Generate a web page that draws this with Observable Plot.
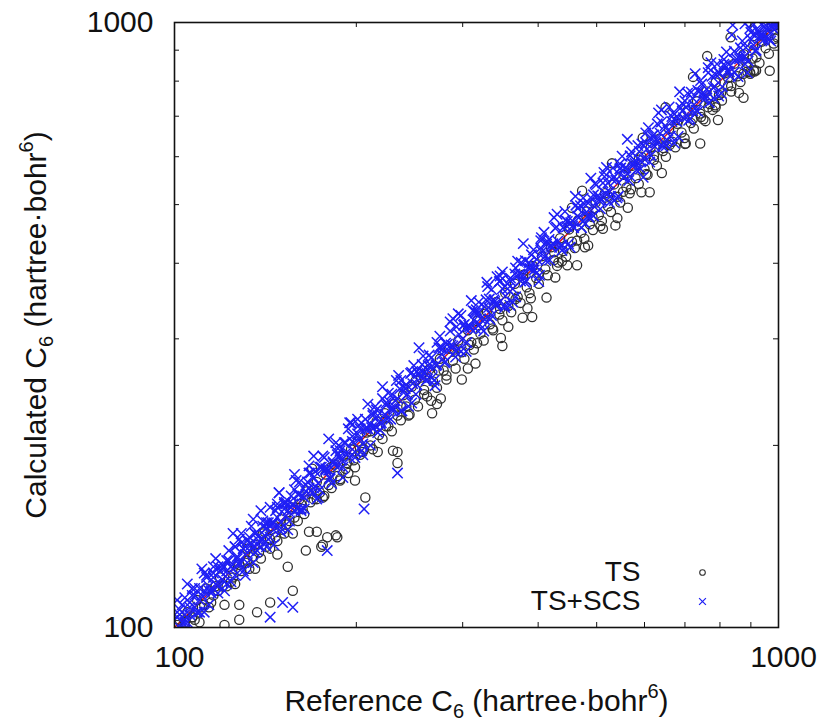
<!DOCTYPE html>
<html>
<head>
<meta charset="utf-8">
<script src="https://cdn.jsdelivr.net/npm/d3@7"></script>
<script src="https://cdn.jsdelivr.net/npm/@observablehq/plot@0.6"></script>
<style>
  html, body { margin: 0; padding: 0; background: #fff; }
</style>
</head>
<body>
<div id="chart"></div>
<script>
// ---------- data ----------
const seriesNames = ["TS", "TS+SCS"];
const majorTicks = [100, 1000];
const minorTicks = [200, 300, 400, 500, 600, 700, 800, 900];
const diagonal = [100, 1000];
const xTitle = "Reference C₆ (hartree·bohr⁶)";
const yTitle = "Calculated C₆ (hartree·bohr⁶)";

// TS: [reference C6, calculated C6]
const tsPoints = [
[101,101],[102,103],[104,102],[105,106],[107,104],[108,103],[109,111],[111,108],[112,109],[113,116],[115,110],[116,113],[118,115],[119,121],[121,101],[120,117],[122,117],[123,126],[125,121],[126,118],[128,103],[128,127],[129,124],[131,128],[132,135],[133,125],[135,131],[136,137],[137,106],[138,133],[139,130],[141,144],[142,136],[144,140],[144,110],[145,147],[147,141],[148,139],[150,151],[151,145],[152,143],[154,126],[155,150],[156,158],[157,115],[158,152],[160,150],[161,163],[163,157],[164,154],[165,134],[166,168],[168,161],[169,183],[170,163],[172,144],[172,174],[174,167],[175,136],[176,164],[176,137],[178,179],[179,141],[180,172],[182,170],[184,186],[185,142],[186,141],[186,178],[188,176],[190,192],[192,183],[194,180],[196,197],[198,189],[199,184],
[201,203],[203,193],[206,197],[207,164],[208,210],[211,200],[213,197],[216,219],[218,208],[221,205],[223,226],[226,215],[229,211],[231,234],[234,187],[234,224],[234,195],[237,220],[239,242],[242,232],[245,225],[247,250],[250,238],[253,232],[256,259],[259,247],[262,241],[264,267],[267,226],[268,255],[272,234],[272,249],[275,278],[276,239],[279,266],[282,261],[285,289],[289,276],[292,268],[295,298],[299,285],[302,278],[306,268],[306,310],[310,296],[313,288],[315,273],[317,321],[321,306],[325,298],[329,333],[333,317],[337,310],[341,345],[345,329],[347,301],[349,292],[349,322],[353,357],[357,340],[361,332],[366,370],[370,352],[374,344],[377,325],[378,383],[383,365],[384,337],[387,357],[391,326],[392,396],[397,378],[401,370],[406,411],[411,391],[415,382],[420,425],[425,405],[427,379],[430,396],[432,401],[435,440],[440,419],[445,410],[447,397],[450,455],[455,494],[455,434],[460,424],[464,397],[466,471],[471,449],[473,527],[477,439],[482,487],[484,428],[487,464],[493,454],[498,504],
[504,480],[510,470],[512,456],[516,522],[522,497],[528,486],[530,585],[534,540],[541,475],[541,515],[547,504],[554,560],[560,534],[563,494],[567,522],[573,580],[580,553],[587,541],[593,524],[593,600],[596,645],[600,572],[607,560],[612,524],[614,621],[622,593],[629,580],[636,643],[644,613],[645,620],[651,600],[650,724],[659,667],[667,635],[675,622],[683,690],[691,658],[699,644],[702,631],[707,715],[716,682],[722,813],[724,668],[733,741],[742,707],[744,698],[751,692],[757,687],[760,769],[762,880],[765,724],[769,733],[778,717],[786,730],[787,796],[794,690],[797,759],[803,764],[806,743],[815,824],[825,810],[825,786],[833,945],[835,769],[845,855],[855,815],[865,797],[875,751],[875,823],[876,886],[886,844],[888,829],[898,823],[897,828],[906,872],[908,918],[910,834],[918,833],[919,876],[930,857],[941,952],[952,907],[964,888],[975,986],[982,923],[987,940],[990,990],
[104,101],[107,104],[110,102],[114,108],[117,117],[121,109],[124,119],[128,109],[132,129],[136,125],[140,143],[144,135],[148,132],[153,148],[157,143],[162,160],[167,144],[172,163],[177,165],[182,184],[188,175],[193,187],[199,175],
[205,195],[211,211],[217,195],[224,215],[230,196],[237,232],[244,224],[251,256],[259,243],[266,237],[274,266],[282,257],[291,288],[299,257],[308,293],[317,295],[327,330],[336,312],[346,336],[357,314],[367,349],[378,378],[389,350],[401,385],[413,351],[425,417],[438,403],[451,460],[464,436],[478,425],[492,477],
[507,461],[522,517],[537,462],[553,525],[570,530],[587,593],[604,562],[622,603],[641,564],[660,627],[680,680],[700,630],[721,692],[742,631],[764,749],[787,724],[811,827],[835,785],[860,765],[885,858],[912,830],[939,930],[967,832],[995,945]
];

// TS+SCS: [reference C6, calculated C6]
const tsScsPoints = [
[101,104],[102,100],[103,109],[104,105],[105,102],[106,110],[107,116],[108,108],[109,106],[110,116],[111,113],[112,106],[113,121],[114,117],[115,114],[116,126],[117,118],[118,114],[119,124],[120,127],[121,119],[122,124],[123,129],[124,119],[125,125],[126,136],[127,131],[128,127],[129,143],[130,135],[131,132],[132,128],[133,141],[134,137],[135,128],[136,143],[137,137],[138,142],[139,136],[140,150],[141,142],[142,136],[143,149],[144,104],[145,148],[146,145],[147,156],[148,152],[149,167],[150,146],[151,110],[152,160],[153,153],[154,145],[155,161],[157,108],[157,160],[158,169],[160,157],[161,166],[163,165],[164,157],[166,174],[167,170],[169,167],[170,192],[171,181],[173,173],[174,169],[176,183],[177,191],[179,134],[180,182],[182,173],[183,188],[185,196],[187,185],[188,192],[190,184],[192,202],[194,194],[196,218],[197,203],[199,191],
[201,209],[203,205],[205,201],[206,157],[207,221],[209,213],[211,200],[213,224],[215,215],[217,224],[219,212],[221,239],[223,225],[225,221],[227,236],[229,243],[231,229],[234,180],[234,239],[236,248],[238,228],[241,248],[243,243],[246,263],[248,253],[251,243],[253,263],[256,259],[258,281],[261,256],[263,271],[266,279],[269,256],[271,271],[274,290],[277,283],[280,274],[283,294],[286,309],[289,292],[292,280],[295,330],[296,305],[299,299],[302,317],[305,296],[308,314],[312,334],[315,331],[315,312],[318,331],[321,324],[325,309],[328,348],[330,366],[331,338],[335,328],[338,348],[342,380],[342,342],[345,373],[349,363],[352,341],[356,363],[360,378],[363,363],[367,352],[371,382],[375,401],[378,382],[382,374],[386,401],[390,413],[394,390],[398,406],[402,382],[404,436],[406,418],[410,410],[414,435],[418,405],[423,431],[427,457],[431,435],[436,427],[440,458],[444,471],[449,431],[453,467],[458,458],[462,499],[467,476],[472,458],[477,501],[481,486],[486,476],[491,511],[497,542],[496,496],
[502,517],[507,492],[512,543],[517,522],[522,543],[527,516],[532,575],[538,549],[543,516],[548,575],[554,554],[559,576],[565,548],[571,611],[576,582],[582,570],[588,612],[594,630],[600,594],[606,618],[612,588],[618,649],[624,624],[630,680],[637,656],[643,624],[649,675],[656,663],[662,649],[669,709],[675,689],[682,648],[689,723],[696,696],[703,724],[710,689],[717,767],[724,731],[731,716],[738,768],[746,791],[753,745],[761,776],[768,737],[776,815],[784,784],[791,854],[799,823],[807,783],[815,848],[823,831],[832,815],[840,990],[848,865],[857,814],[865,908],[874,874],[883,909],[891,864],[900,963],[909,918],[918,900],[927,964],[937,993],[946,937],[955,974],[965,936],[974,984],[984,974],[994,994],
[102,107],[104,102],[106,108],[108,116],[110,106],[112,115],[114,115],[116,123],[118,117],[120,125],[122,118],[124,126],[126,136],[128,128],[130,124],[132,139],[134,138],[136,133],[138,139],[140,140],[142,149],[144,141],[146,149],[148,158],[150,144],[152,157],[154,156],[156,165],[158,156],[160,166],[162,157],[165,168],[167,180],[170,170],[172,163],[175,184],[178,183],[181,177],[184,186],[186,193],[189,189],[191,202],[195,191],[198,202],
[202,216],[204,196],[208,214],[212,214],[216,229],[220,218],[224,233],[228,221],[232,237],[237,256],[242,242],[247,235],[252,265],[257,265],[262,257],[267,270],[272,272],[276,290],[281,275],[287,293],[293,314],[298,286],[303,312],[309,312],[314,333],[320,317],[326,339],[333,323],[339,346],[346,374],[353,353],[359,341],[366,384],[373,384],[380,372],[388,392],[396,396],[404,424],[412,404],[420,428],[429,459],[438,420],[447,460],[456,461],[465,493],[474,469],[484,503],[494,479],
[505,515],[515,556],[525,525],[535,508],[546,573],[557,574],[568,557],[579,585],[591,591],[603,633],[615,603],[627,640],[640,685],[652,626],[666,686],[679,686],[693,735],[707,700],[721,750],[735,713],[750,765],[765,826],[780,780],[796,756],[812,853],[828,853],[845,828],[862,871],[880,995],[879,879],[897,942],[915,897],[933,952],[952,990],[971,932],[990,990],
[101,111],[103,102],[105,118],[107,113],[109,106],[111,125],[113,122],[115,115],[117,130],[119,124],[121,115],[123,134],[125,143],[127,130],[129,138],[131,122],[134,147],[136,143],[139,156],[141,138],[144,158],[146,137],[149,167],[152,161],[155,150],[158,179],[161,174],[164,164],[167,185],[170,177],[173,164],[176,192],[180,205],[183,187],[187,200],[190,177],[194,213],[197,207],
[201,221],[205,193],[209,234],[213,226],[217,210],[221,250],[226,244],[230,230],[235,261],[240,250],[244,232],[249,271],[254,290],[259,264],[264,282],[270,251],[275,303],[281,295],[286,320],[292,286],[298,328],[304,286],[310,347],[316,335],[322,312],[329,372],[335,362],[342,342],[349,387],[356,370],[363,345],[370,403],[378,431],[385,393],[393,421],[401,373],[409,450],[417,438],[425,476],[434,425],[443,487],[452,425],[461,516],[470,498],[479,465],[489,553],
[499,539],[509,509],[519,576],[530,551],[540,513],[551,601],[562,641],[573,584],[585,626],[597,555],[609,670],[621,652],[633,709],[646,633],[659,725],[672,632],[686,768],[700,742],[714,693],[728,823],[743,802],[758,758],[773,858],[788,820],[804,764],[820,894],[837,954],[853,870],[871,932],[888,826],[906,997],[924,970],[943,952],[962,943],[981,991],
[102,105],[104,112],[106,105],[108,113],[110,111],[112,123],[114,109],[116,121],[118,126],[120,120],[122,129],[124,126],[126,122],[128,140],[130,135],[133,134],[135,151],[137,134],[140,147],[142,146],[145,149],[148,160],[150,149],[153,161],[156,158],[159,175],[162,156],[165,172],[168,180],[171,171],[174,184],[178,182],[181,176],[185,202],[188,196],[192,194],[195,218],[199,195],
[203,213],[207,213],[211,217],[215,232],[219,217],[224,235],[228,230],[233,256],[237,228],[242,252],[247,264],[252,252],[257,272],[262,267],[267,259],[272,296],[278,289],[284,287],[289,324],[295,289],[301,316],[307,316],[313,322],[319,345],[326,323],[332,349],[339,342],[346,381],[352,338],[360,374],[367,393],[374,374],[381,404],[389,397],[397,385],[405,441],[413,430],[421,425],[430,482],[438,429],[447,469],[456,470],[465,479],[475,513],[484,479],[494,519],
[504,509],[514,565],[525,504],[535,556],[546,584],[556,556],[568,602],[579,591],[591,573],[603,657],[615,640],[627,633],[640,717],[653,640],[666,699],[679,699],[693,714],[707,764],[721,714],[735,772],[750,758],[765,842],[781,750],[796,828],[812,869],[829,829],[845,896],[862,879],[880,854],[897,978],[915,952],[934,943],[952,981],[971,990],[991,981]
];

// ---------- chart ----------
const W = 820, H = 721;
const mL = 174, mR = 42, mT = 22, mB = 94;
const fw = W - mL - mR, fh = H - mT - mB;
const font = "'Liberation Sans', Arial, Helvetica, sans-serif";
const FS = 30;
const LFS = 28;

const chart = Plot.plot({
  width: W, height: H,
  marginLeft: mL, marginRight: mR, marginTop: mT, marginBottom: mB,
  x: {type: "log", domain: [100, 1000], axis: null},
  y: {type: "log", domain: [100, 1000], axis: null},
  style: {fontFamily: font, background: "#fff", color: "#111", overflow: "visible"},
  marks: [
    Plot.line(diagonal, {x: d => d, y: d => d, stroke: "#e01010", strokeWidth: 1.5}),
    Plot.dot(tsPoints, {x: d => d[0], y: d => d[1], symbol: "circle", r: 4.6, stroke: "#303030", strokeWidth: 1.3, fill: "none", clip: true}),
    Plot.dot(tsScsPoints, {x: d => d[0], y: d => d[1], symbol: "times", r: 4.8, stroke: "#1f1ff5", strokeWidth: 1.5, clip: true}),
    // inward minor ticks
    Plot.tickX(minorTicks, {x: d => d, insetTop: fh - 5, stroke: "#111"}),
    Plot.tickX(minorTicks, {x: d => d, insetBottom: fh - 5, stroke: "#111"}),
    Plot.tickY(minorTicks, {y: d => d, insetRight: fw - 5, stroke: "#111"}),
    Plot.tickY(minorTicks, {y: d => d, insetLeft: fw - 5, stroke: "#111"}),
    Plot.frame({stroke: "#111", strokeWidth: 1.6}),
    // tick labels
    Plot.text(majorTicks, {x: d => d, frameAnchor: "bottom", dy: 30, dx: 5, text: d => String(d), fontSize: FS, textAnchor: "middle", lineAnchor: "middle", fill: "#111"}),
    Plot.text(majorTicks, {y: d => d, frameAnchor: "left", dx: -21, text: d => String(d), fontSize: FS, textAnchor: "end", lineAnchor: "middle", fill: "#111"}),
    // axis titles
    Plot.text([xTitle], {frameAnchor: "bottom", dy: 74, text: d => d, fontSize: FS, textAnchor: "middle", lineAnchor: "middle", fill: "#111"}),
    Plot.text([yTitle], {frameAnchor: "left", dx: -138, rotate: -90, text: d => d, fontSize: FS, textAnchor: "middle", lineAnchor: "middle", fill: "#111"}),
    // legend
    Plot.text([seriesNames[0]], {frameAnchor: "bottom-right", dx: -138, dy: -55, text: d => d, fontSize: LFS, textAnchor: "end", lineAnchor: "middle", fill: "#111"}),
    Plot.text([seriesNames[1]], {frameAnchor: "bottom-right", dx: -138, dy: -26, text: d => d, fontSize: LFS, textAnchor: "end", lineAnchor: "middle", fill: "#111"}),
    Plot.dot([seriesNames[0]], {frameAnchor: "bottom-right", dx: -76, dy: -55, symbol: "circle", r: 2.8, stroke: "#303030", strokeWidth: 1.1, fill: "none"}),
    Plot.dot([seriesNames[1]], {frameAnchor: "bottom-right", dx: -76, dy: -26, symbol: "times", r: 3.2, stroke: "#1f1ff5", strokeWidth: 1.2})
  ]
});

// render sub/superscripts in axis titles
d3.select(chart).selectAll("text").each(function() {
  const t = this.textContent;
  if (t === xTitle || t === yTitle) {
    const lead = t === xTitle ? "Reference C" : "Calculated C";
    const sel = d3.select(this);
    sel.text(null);
    sel.append("tspan").text(lead);
    sel.append("tspan").attr("dy", 7).attr("font-size", 20).text("6");
    sel.append("tspan").attr("dy", -7).text(" (hartree·bohr");
    sel.append("tspan").attr("dy", -13).attr("font-size", 20).text("6");
    sel.append("tspan").attr("dy", 13).text(")");
  }
});

document.getElementById("chart").appendChild(chart);
</script>
</body>
</html>
